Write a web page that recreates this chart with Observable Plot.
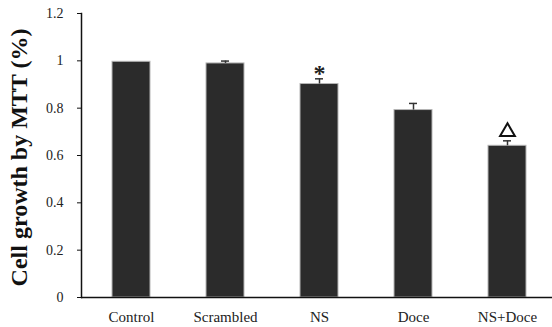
<!DOCTYPE html>
<html>
<head>
<meta charset="utf-8">
<script src="https://cdn.jsdelivr.net/npm/d3@7"></script>
<script src="https://cdn.jsdelivr.net/npm/@observablehq/plot@0.6"></script>
<style>
  html, body { margin: 0; padding: 0; background: #fff; }
  #chart svg { display: block; }
</style>
</head>
<body>
<div id="chart"></div>
<script>
const categories = ["Control", "Scrambled", "NS", "Doce", "NS+Doce"];
const values = [0.996, 0.989, 0.902, 0.792, 0.641];
const errors = [0, 0.010, 0.022, 0.028, 0.021];
const markers = ["", "", "*", "", "\u25B3"];
const yTicks = [0, 0.2, 0.4, 0.6, 0.8, 1.0, 1.2];
const yTickLabels = ["0", "0.2", "0.4", "0.6", "0.8", "1", "1.2"];
const yLabel = "Cell growth by MTT (%)";

const data = categories.map((c, i) => ({cat: c, v: values[i], e: errors[i], m: markers[i]}));
const withErr = data.filter(d => d.e > 0);

const chart = Plot.plot({
  width: 552,
  height: 327,
  marginLeft: 81,
  marginRight: 0,
  marginTop: 13,
  marginBottom: 30,
  style: {fontFamily: "'Liberation Serif', 'DejaVu Serif', serif", color: "#222", background: "#fff"},
  x: {domain: categories, paddingInner: 0.593, paddingOuter: 0.285, align: 0.54, label: null},
  y: {domain: [0, 1.2], label: null},
  marks: [
    Plot.barY(data, {x: "cat", y: "v", fill: "#2b2b2b", stroke: "#b5b5b5", strokeWidth: 1}),
    Plot.ruleX(withErr, {x: "cat", y1: "v", y2: d => d.v + d.e, stroke: "#333", strokeWidth: 1.5}),
    Plot.tickY(withErr, {x: "cat", y: d => d.v + d.e, stroke: "#333", strokeWidth: 1.5, insetLeft: 15, insetRight: 15}),
    Plot.text(data.filter(d => d.m === "*"), {x: "cat", y: d => d.v + d.e, text: "m", dy: -6, fontSize: 24, fontWeight: "bold", fill: "#222"}),
    Plot.dot(data.filter(d => d.m === "\u25B3"), {x: "cat", y: d => d.v + d.e, dy: -9, symbol: "triangle", r: 5.5, fill: "none", stroke: "#111", strokeWidth: 2}),
    Plot.ruleY([0], {stroke: "#111", strokeWidth: 1.5}),
    Plot.frame({anchor: "left", stroke: "#111", strokeWidth: 1.5}),
    Plot.axisY({ticks: yTicks, tickSize: 4, tickPadding: 14, tickFormat: d => yTickLabels[yTicks.findIndex(t => Math.abs(t - d) < 1e-9)], fontSize: 14, label: null, stroke: "#111"}),
    Plot.axisX({tickSize: 0, tickPadding: 14, fontSize: 15, label: null}),
    Plot.text([yLabel], {frameAnchor: "left", text: d => d, rotate: -90, dx: -62, dy: 2, textAnchor: "middle", fontSize: 24, fontWeight: "bold", fill: "#111", lineAnchor: "middle"})
  ]
});
document.getElementById("chart").appendChild(chart);
</script>
</body>
</html>
